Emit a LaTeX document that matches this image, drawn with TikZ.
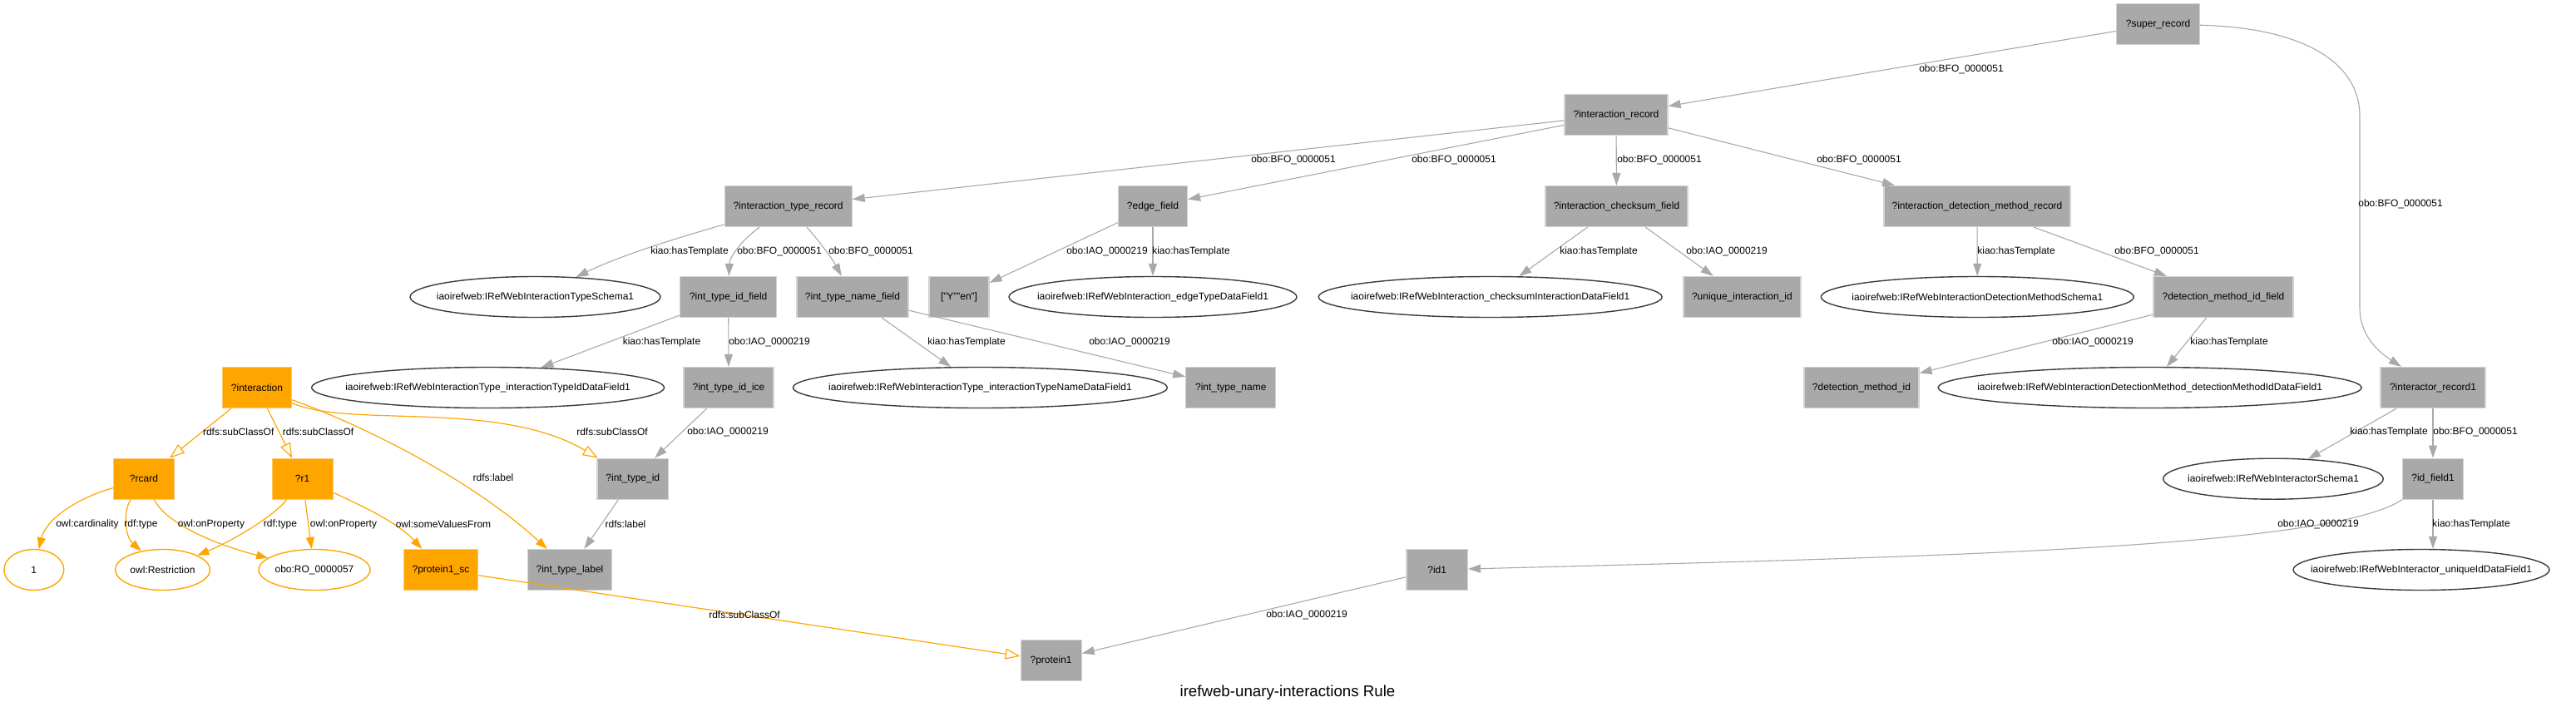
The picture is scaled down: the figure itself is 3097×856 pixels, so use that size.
\documentclass[tikz,border=0pt]{standalone}
\usepackage{fontspec}
\setmainfont{Liberation Sans}
\usetikzlibrary{arrows.meta,shapes.geometric}
\definecolor{gfill}{RGB}{169,169,169}
\definecolor{gline}{RGB}{211,211,211}
\definecolor{ofill}{RGB}{255,165,0}
\definecolor{oline}{RGB}{255,200,110}
\definecolor{eline}{RGB}{60,60,60}
\definecolor{edgegray}{RGB}{169,169,169}
\newcommand{\mkz}[1]{\makebox[0pt]{#1}}
\begin{document}
\begin{tikzpicture}[x=1pt,y=-1pt,
  every node/.style={font=\fontsize{12}{14}\selectfont, inner sep=0pt, text=black},
  gbox/.style={rectangle, fill=gfill, draw=gline, line width=1.2pt, minimum height=49pt},
  obox/.style={rectangle, fill=ofill, draw=oline, line width=1.2pt, minimum height=49pt},
  ell/.style={ellipse, draw=eline, fill=white, line width=1.4pt, minimum height=49pt},
  oell/.style={ellipse, draw=ofill, fill=white, line width=1.4pt, minimum height=49pt},
  lbl/.style={},
  ge/.style={draw=edgegray, line width=1.1pt, -{Triangle[length=15pt,width=10pt]}},
  oe/.style={draw=ofill, line width=1.2pt, -{Triangle[length=14pt,width=10pt]}},
  oo/.style={draw=ofill, line width=1.2pt, -{Triangle[open,length=18pt,width=13pt,fill=white]}}
]
\useasboundingbox[fill=white] (0,0) rectangle (3097,856);

% ---- nodes
\node[gbox, minimum width=100pt] (sup) at (2594.5,29) {?super\_record};
\node[gbox, minimum width=124pt] (ir) at (1943,138) {?interaction\_record};
\node[gbox, minimum width=153pt] (itr) at (947.6,248) {?interaction\_type\_record};
\node[gbox, minimum width=83pt] (ef) at (1386,248) {?edge\_field};
\node[gbox, minimum width=171pt] (icf) at (1943.5,248) {?interaction\_checksum\_field};
\node[gbox, minimum width=224pt] (idmr) at (2377,248) {?interaction\_detection\_method\_record};

\node[ell, minimum width=301pt] (eits) at (643.5,357) {\mkz{iaoirefweb:IRefWebInteractionTypeSchema1}};
\node[gbox, minimum width=116pt] (itif) at (875.7,357) {?int\_type\_id\_field};
\node[gbox, minimum width=134pt] (itnf) at (1025,357) {?int\_type\_name\_field};
\node[gbox, minimum width=72pt] (yen) at (1153,357) {["Y""en"]};
\node[ell, minimum width=346pt] (eetd) at (1386,357) {\mkz{iaoirefweb:IRefWebInteraction\_edgeTypeDataField1}};
\node[ell, minimum width=413pt] (ecks) at (1791.7,357) {\mkz{iaoirefweb:IRefWebInteraction\_checksumInteractionDataField1}};
\node[gbox, minimum width=141pt] (uid) at (2094.4,357) {?unique\_interaction\_id};
\node[ell, minimum width=376pt] (edms) at (2377.3,357) {\mkz{iaoirefweb:IRefWebInteractionDetectionMethodSchema1}};
\node[gbox, minimum width=168pt] (dmif) at (2673,357) {?detection\_method\_id\_field};

\node[obox, minimum width=83pt] (inter) at (309,466) {?interaction};
\node[ell, minimum width=424pt] (eitid) at (586.6,466) {\mkz{iaoirefweb:IRefWebInteractionType\_interactionTypeIdDataField1}};
\node[gbox, minimum width=108pt] (ice) at (876,466) {?int\_type\_id\_ice};
\node[ell, minimum width=450pt] (eitn) at (1178.4,466) {\mkz{iaoirefweb:IRefWebInteractionType\_interactionTypeNameDataField1}};
\node[gbox, minimum width=108pt] (itn) at (1479.8,466) {?int\_type\_name};
\node[gbox, minimum width=138pt] (dmid) at (2238,466) {?detection\_method\_id};
\node[ell, minimum width=509pt] (edmid) at (2584.6,466) {\mkz{iaoirefweb:IRefWebInteractionDetectionMethod\_detectionMethodIdDataField1}};
\node[gbox, minimum width=126pt] (irec1) at (2925,466) {?interactor\_record1};

\node[obox, minimum width=73pt] (rcard) at (173,575.7) {?rcard};
\node[obox, minimum width=73pt] (r1) at (363.6,575.7) {?r1};
\node[gbox, minimum width=85.5pt] (itid) at (760.8,575.7) {?int\_type\_id};
\node[ell, minimum width=264.5pt] (eirs) at (2733,575.7) {\mkz{iaoirefweb:IRefWebInteractorSchema1}};
\node[gbox, minimum width=72.6pt] (idf1) at (2925,575.7) {?id\_field1};

\node[oell, minimum width=72pt] (one) at (40.8,685) {\mkz{1}};
\node[oell, minimum width=114pt] (rest) at (195.5,685) {\mkz{owl:Restriction}};
\node[oell, minimum width=134pt] (ro) at (378,685) {\mkz{obo:RO\_0000057}};
\node[obox, minimum width=89.5pt] (psc) at (530,685) {?protein1\_sc};
\node[gbox, minimum width=101.5pt] (itl) at (685,685) {?int\_type\_label};
\node[gbox, minimum width=73.5pt] (id1) at (1727.7,685) {?id1};
\node[ell, minimum width=308pt] (euid) at (2911,685) {\mkz{iaoirefweb:IRefWebInteractor\_uniqueIdDataField1}};

\node[gbox, minimum width=73pt] (p1) at (1263.6,794.3) {?protein1};

\node[font=\fontsize{18.7}{22}\selectfont] (title) at (1548,833) {irefweb-unary-interactions Rule};

% ---- edges
\draw[ge] (sup) -- (ir);
\draw[ge] (sup) .. controls (2760,33) and (2837,70) .. (2837,140) -- (2837,370) .. controls (2837,400) and (2855,420) .. (irec1);
\draw[ge] (ir) -- (itr);
\draw[ge] (ir) -- (ef);
\draw[ge] (ir) -- (icf);
\draw[ge] (ir) -- (idmr);
\draw[ge] (itr) .. controls (800,290) and (740,310) .. (eits);
\draw[ge] (itr) .. controls (890,290) and (877,310) .. (itif);
\draw[ge] (itr) .. controls (985,290) and (1000,310) .. (itnf);
\draw[ge] (ef) -- (yen);
\draw[ge] (ef) -- (eetd);
\draw[ge] (icf) -- (ecks);
\draw[ge] (icf) -- (uid);
\draw[ge] (idmr) -- (edms);
\draw[ge] (idmr) -- (dmif);
\draw[ge] (itif) -- (eitid);
\draw[ge] (itif) -- (ice);
\draw[ge] (itnf) -- (eitn);
\draw[ge] (itnf) -- (itn);
\draw[ge] (dmif) -- (dmid);
\draw[ge] (dmif) -- (edmid);
\draw[ge] (irec1) -- (eirs);
\draw[ge] (irec1) -- (idf1);
\draw[ge] (idf1) .. controls (2800,660) and (2300,670) .. (id1);
\draw[ge] (idf1) -- (idf1 |- euid.north);
\draw[ge] (id1) -- (p1);
\draw[ge] (itid) -- (itl);
\draw[ge] (ice) -- (itid);
\draw[oo] (psc) -- (p1);
\draw[oo] (inter) -- (rcard);
\draw[oo] (inter) -- (r1);
\draw[oo] (inter) .. controls (420,515) and (600,480) .. (itid);
\draw[oe] (inter) .. controls (420,505) and (560,570) .. (itl);
\draw[oe] (rcard) .. controls (90,600) and (55,625) .. (one);
\draw[oe] (rcard) .. controls (148,615) and (150,645) .. (rest);
\draw[oe] (rcard) .. controls (200,630) and (260,655) .. (ro);
\draw[oe] (r1) .. controls (330,620) and (280,650) .. (rest);
\draw[oe] (r1) -- (ro);
\draw[oe] (r1) .. controls (440,610) and (480,630) .. (psc);

% ---- edge labels
\node[lbl] (l01) at (2358,83) {obo:BFO\_0000051};
\node[lbl] (l02) at (2886,245) {obo:BFO\_0000051};
\node[lbl] (l03) at (1555,192) {obo:BFO\_0000051};
\node[lbl] (l04) at (1748,192) {obo:BFO\_0000051};
\node[lbl] (l05) at (1995,192) {obo:BFO\_0000051};
\node[lbl] (l06) at (2235,192) {obo:BFO\_0000051};
\node[lbl] (l07) at (829,302) {kiao:hasTemplate};
\node[lbl] (l08) at (937,302) {obo:BFO\_0000051};
\node[lbl] (l09) at (1047,302) {obo:BFO\_0000051};
\node[lbl] (l10) at (1331,302) {obo:IAO\_0000219};
\node[lbl] (l11) at (1432,302) {kiao:hasTemplate};
\node[lbl] (l12) at (1922,302) {kiao:hasTemplate};
\node[lbl] (l13) at (2076,302) {obo:IAO\_0000219};
\node[lbl] (l14) at (2424,302) {kiao:hasTemplate};
\node[lbl] (l15) at (2593,302) {obo:BFO\_0000051};
\node[lbl] (l16) at (795.5,411) {kiao:hasTemplate};
\node[lbl] (l17) at (925,411) {obo:IAO\_0000219};
\node[lbl] (l18) at (1162,411) {kiao:hasTemplate};
\node[lbl] (l19) at (1358,411) {obo:IAO\_0000219};
\node[lbl] (l20) at (2516,411) {obo:IAO\_0000219};
\node[lbl] (l21) at (2680,411) {kiao:hasTemplate};
\node[lbl] (l22) at (286.7,519) {rdfs:subClassOf};
\node[lbl] (l23) at (382.5,519) {rdfs:subClassOf};
\node[lbl] (l24) at (736,519) {rdfs:subClassOf};
\node[lbl] (l25) at (875,519) {obo:IAO\_0000219};
\node[lbl] (l26) at (2872,519) {kiao:hasTemplate};
\node[lbl] (l27) at (2976,519) {obo:BFO\_0000051};
\node[lbl] (l28) at (593,574) {rdfs:label};
\node[lbl] (l29) at (105,630) {owl:cardinality};
\node[lbl] (l30) at (169.5,630) {rdf:type};
\node[lbl] (l31) at (254,630) {owl:onProperty};
\node[lbl] (l32) at (337,630) {rdf:type};
\node[lbl] (l33) at (413,630) {owl:onProperty};
\node[lbl] (l34) at (533,630) {owl:someValuesFrom};
\node[lbl] (l35) at (752,630) {rdfs:label};
\node[lbl] (l36) at (2787,630) {obo:IAO\_0000219};
\node[lbl] (l37) at (2971,630) {kiao:hasTemplate};
\node[lbl] (l38) at (895,739) {rdfs:subClassOf};
\node[lbl] (l39) at (1571,739) {obo:IAO\_0000219};
\end{tikzpicture}
\end{document}
